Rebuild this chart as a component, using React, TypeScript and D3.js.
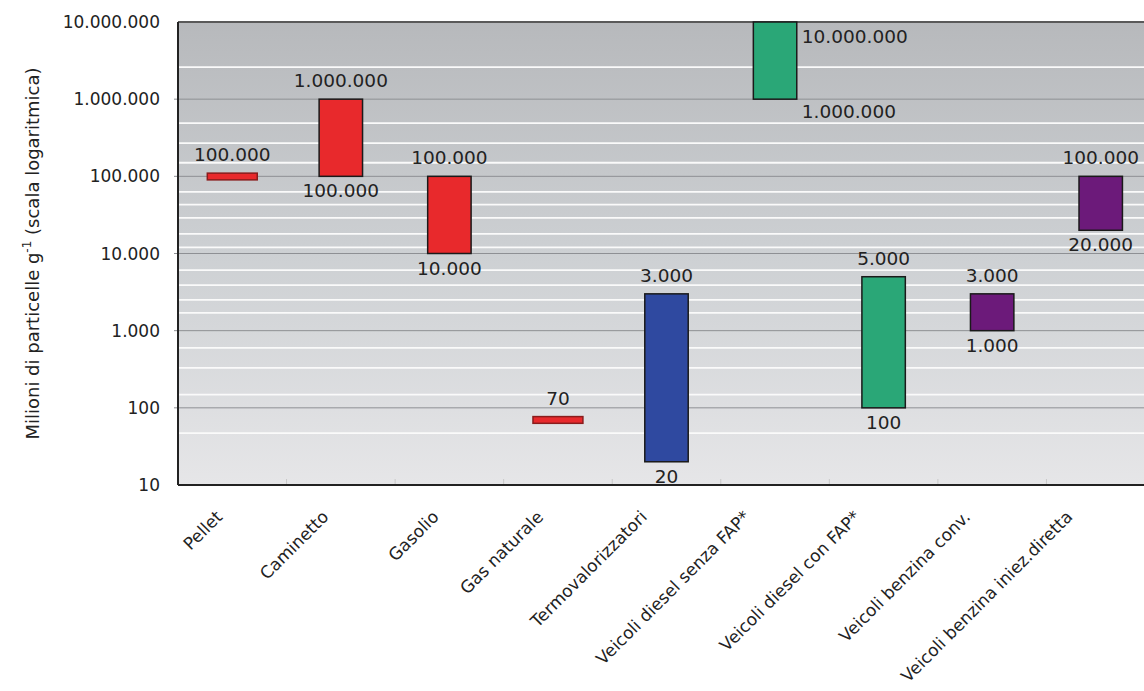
import React from "react";
import * as d3 from "d3";

const categories = [
  "Pellet",
  "Caminetto",
  "Gasolio",
  "Gas naturale",
  "Termovalorizzatori",
  "Veicoli diesel senza FAP*",
  "Veicoli diesel con FAP*",
  "Veicoli benzina conv.",
  "Veicoli benzina iniez.diretta",
];
const lowValues = [90000, 100000, 10000, 63, 20, 1000000, 100, 1000, 20000];
const highValues = [110000, 1000000, 100000, 77, 3000, 10000000, 5000, 3000, 100000];
const topLabels = ["100.000", "1.000.000", "100.000", "70", "3.000", "10.000.000", "5.000", "3.000", "100.000"];
const bottomLabels = ["", "100.000", "10.000", "", "20", "1.000.000", "100", "1.000", "20.000"];
const groups = ["red", "red", "red", "red", "blue", "green", "green", "purple", "purple"];
const singleValue = [true, false, false, true, false, false, false, false, false];
const sideLabels = [false, false, false, false, false, true, false, false, false];

const yTicks = [10, 100, 1000, 10000, 100000, 1000000, 10000000];
const yTickLabels = ["10", "100", "1.000", "10.000", "100.000", "1.000.000", "10.000.000"];
const minorGrid = [2.6e6, 4.9e5, 2.7e5, 1.5e5, 6.3e4, 4.3e4, 2.9e4, 1.8e4, 1.2e4, 6.1e3, 3.9e3, 2.5e3, 1.7e3, 600, 330, 148, 47];

const colorMap: Record<string, string> = {
  red: "#e8292c",
  blue: "#2f49a0",
  green: "#2aa777",
  purple: "#6c1a7a",
};

const W = 1144;
const H = 691;
const left = 178;
const top = 22;
const bottom = 485;
const right = 1155;
const FONT = "DejaVu Sans, Verdana, sans-serif";

export default function App() {
  const y = d3.scaleLog().domain([10, 1e7]).range([bottom, top]);
  const x = d3.scaleBand<string>().domain(categories).range([left, right]).padding(0);
  const bw = x.bandwidth();

  return (
    <svg
      width={W}
      height={H}
      style={{ position: "absolute", left: 0, top: 0, background: "#fff" }}
      fontFamily={FONT}
    >
      <defs>
        <linearGradient id="bg" x1="0" y1="0" x2="0" y2="1">
          <stop offset="0" stopColor="#b7b9bc" />
          <stop offset="0.5" stopColor="#cdd0d3" />
          <stop offset="1" stopColor="#e6e6e8" />
        </linearGradient>
      </defs>
      <rect x={left} y={top} width={right - left} height={bottom - top} fill="url(#bg)" />
      {minorGrid.map((v, i) => (
        <line key={"m" + i} x1={left} x2={right} y1={y(v)} y2={y(v)} stroke="#fafafa" strokeWidth={1.8} />
      ))}
      {yTicks.slice(1, -1).map((v, i) => (
        <line key={"g" + i} x1={left - 4} x2={right} y1={y(v)} y2={y(v)} stroke="#8e9094" strokeWidth={1} />
      ))}
      {categories.slice(1).map((c, i) => (
        <line key={"t" + i} x1={x(c)!} x2={x(c)!} y1={bottom} y2={bottom - 6} stroke="#c8c8c8" strokeWidth={1} />
      ))}
      <line x1={left} x2={right} y1={top} y2={top} stroke="#5a5a5a" strokeWidth={2} />
      <line x1={left} x2={left} y1={top} y2={bottom} stroke="#222" strokeWidth={2} />
      <line x1={left} x2={right} y1={bottom} y2={bottom} stroke="#222" strokeWidth={2} />

      {yTicks.map((v, i) => (
        <text key={"yl" + i} x={160} y={y(v)} dy="0.36em" textAnchor="end" fontSize={17} fill="#222">
          {yTickLabels[i]}
        </text>
      ))}

      <text
        transform={`translate(39,${(top + bottom) / 2}) rotate(-90)`}
        textAnchor="middle"
        fontSize={18}
        fill="#222"
      >
        Milioni di particelle g
        <tspan dy={-8} fontSize={12}>-1</tspan>
        <tspan dy={8}> (scala logaritmica)</tspan>
      </text>

      {categories.map((c, i) => {
        const cx = x(c)! + bw / 2;
        const w = singleValue[i] ? bw * 0.46 : bw * 0.4;
        const y1 = y(highValues[i]);
        const y0 = y(lowValues[i]);
        const col = colorMap[groups[i]];
        const shift = 4 + 0.8 * c.length;
        return (
          <g key={"b" + i}>
            <rect
              x={cx - w / 2}
              y={y1}
              width={w}
              height={y0 - y1}
              fill={col}
              stroke={singleValue[i] ? "#8a1c1c" : "#1a1a1a"}
              strokeWidth={1.5}
            />
            {sideLabels[i] ? (
              <>
                <text x={cx + w / 2 + 5} y={y1 + 21} fontSize={18.5} fill="#222">
                  {topLabels[i]}
                </text>
                <text x={cx + w / 2 + 5} y={y0 + 19} fontSize={18.5} fill="#222">
                  {bottomLabels[i]}
                </text>
              </>
            ) : (
              <>
                <text x={cx} y={y1 - 12} textAnchor="middle" fontSize={18.5} fill="#222">
                  {topLabels[i]}
                </text>
                {bottomLabels[i] && (
                  <text x={cx} y={y0 + 21} textAnchor="middle" fontSize={18.5} fill="#222">
                    {bottomLabels[i]}
                  </text>
                )}
              </>
            )}
            <text
              transform={`translate(${cx - shift},${bottom + 33}) rotate(-45)`}
              textAnchor="end"
              fontSize={17}
              fill="#222"
            >
              {c}
            </text>
          </g>
        );
      })}
    </svg>
  );
}
